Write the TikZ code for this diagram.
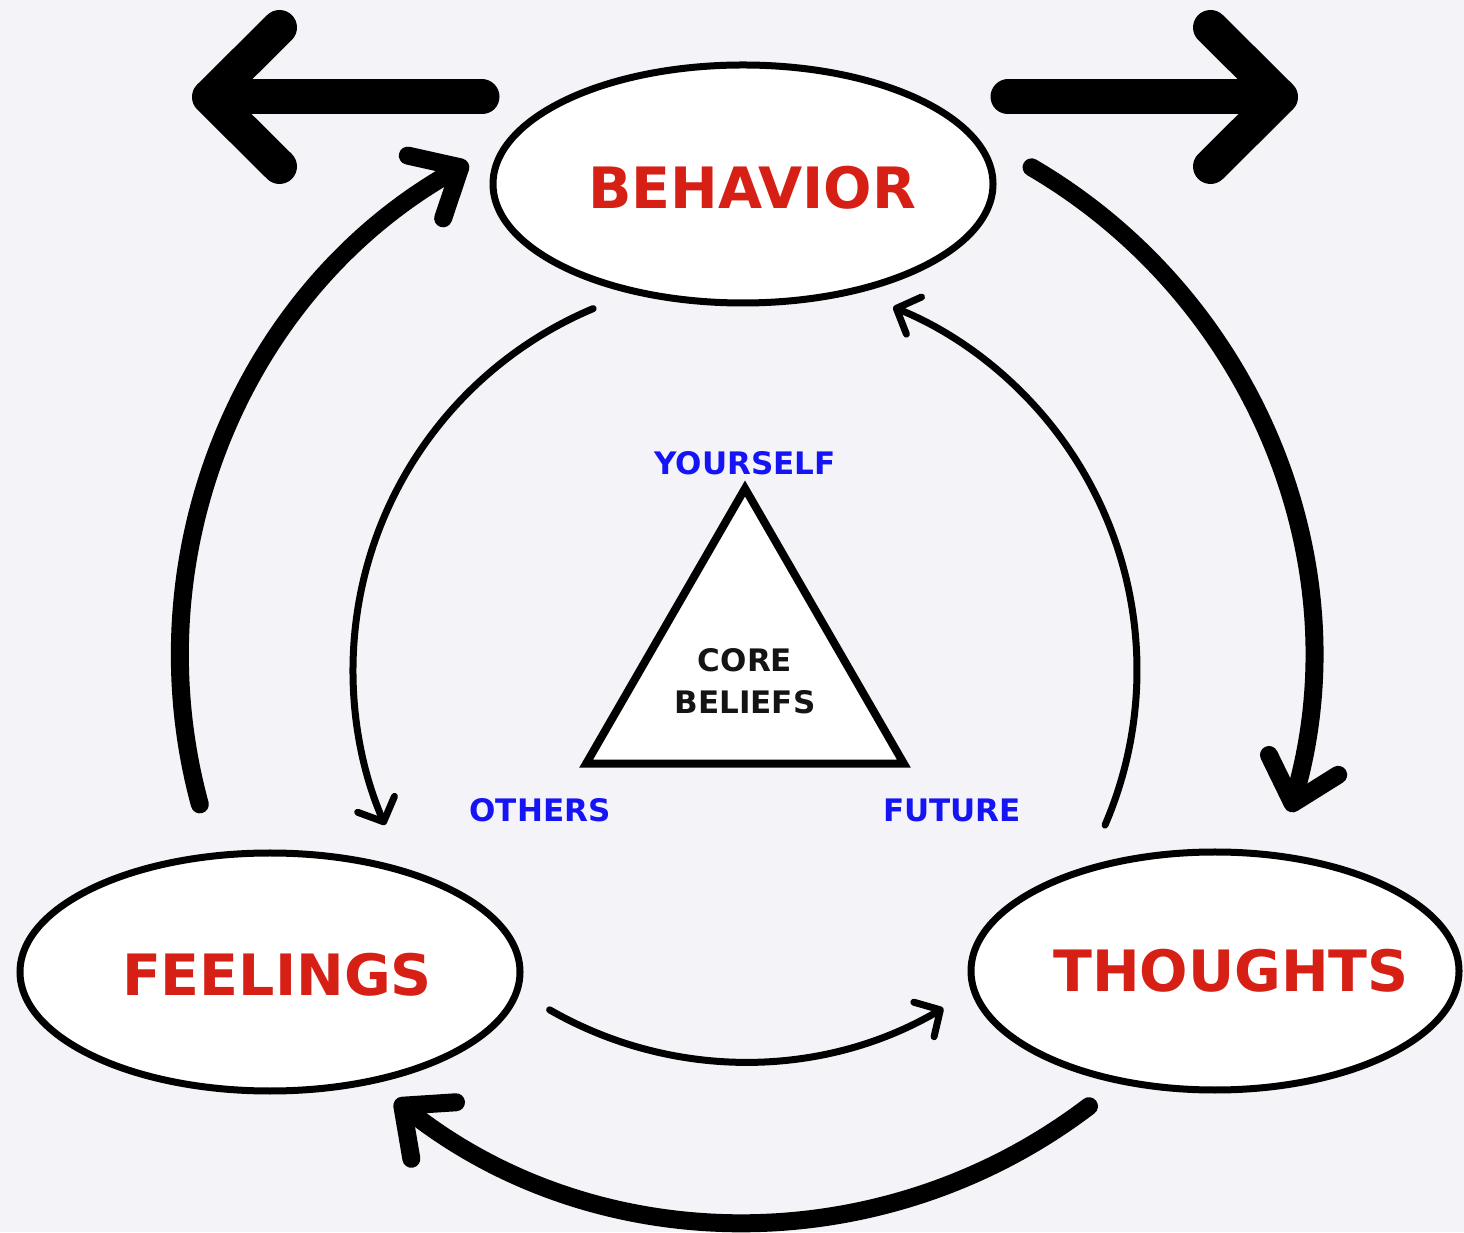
\documentclass[tikz,border=0pt]{standalone}
\usepackage{fontspec}
\setmainfont{DejaVu Sans}
\usetikzlibrary{arrows.meta,shapes.geometric,calc}
\definecolor{bg}{RGB}{244,244,248}
\definecolor{lblred}{RGB}{214,32,22}
\definecolor{lblblue}{RGB}{20,20,245}
\definecolor{inkgray}{RGB}{20,20,20}
\begin{document}
\begin{tikzpicture}[x=1pt,y=1pt,
  bubble/.style={ellipse,draw=black,line width=7pt,fill=white,inner sep=0pt,minimum width=500pt,minimum height=238pt},
  bigword/.style={font=\bfseries\fontsize{57}{60}\selectfont,text=lblred,inner sep=0pt},
  tag/.style={font=\bfseries\fontsize{31}{36}\selectfont,text=lblblue,inner sep=0pt},
  heavy/.style={line width=18pt,line cap=round,-{Straight Barb[length=40pt,width=72pt,round]}},
  light/.style={line width=7pt,line cap=round,-{Straight Barb[length=19pt,width=40pt,round]}},
  huge/.style={line width=35pt,line cap=round,-{Straight Barb[length=70pt,width=139pt,round]}},
]
\fill[bg] (0,0) rectangle (1464,1232);
\useasboundingbox (0,0) rectangle (1464,1232);

\coordinate (outerC) at (746,576);
\coordinate (innerC) at (745,562);

% thin inner arcs
\draw[light] ($(innerC)+(112.8:392)$) arc[start angle=112.8,end angle=203.3,radius=392];
\draw[light] ($(innerC)+(-23.3:392)$) arc[start angle=-23.3,end angle=67.8,radius=392];
\draw[light] ($(innerC)+(240.1:392)$) arc[start angle=240.1,end angle=300.4,radius=392];

% thick outer arcs
\draw[heavy] ($(outerC)+(195.2:566)$) arc[start angle=195.2,end angle=119.4,radius=566];
\draw[heavy] ($(outerC)+(59.7:566)$) arc[start angle=59.7,end angle=-16,radius=566];
\draw[heavy] ($(outerC)+(307.3:566)$) arc[start angle=307.3,end angle=231.7,radius=566];

% big top arrows
\coordinate (lA) at (482,1135);
\coordinate (lB) at (192,1135);
\coordinate (rA) at (1008,1135);
\coordinate (rB) at (1298,1135);
\draw[huge] (lA) -- (lB);
\draw[huge] (rA) -- (rB);

% ellipses
\node[bubble] (beh) at (743,1048) {};
\node[bubble] (fee) at (270,260) {};
\node[bubble,minimum width=488pt] (tho) at (1215,261) {};
\node[bigword] (behT) at ($(beh.center)+(9,-4)$) {BEHAVIOR};
\node[bigword] (feeT) at ($(fee.center)+(7,-3)$) {FEELINGS};
\node[bigword] (thoT) at ($(tho.center)+(16,0)$) {THOUGHTS};

% triangle
\node[regular polygon,regular polygon sides=3,draw=black,line width=8pt,fill=white,minimum size=367pt,inner sep=0pt] (tri) at (745,560) {};
\node[font=\bfseries\fontsize{31}{42}\selectfont,text=inkgray,align=center,inner sep=0pt] (core) at (745,551) {CORE\\BELIEFS};
\node[tag] (you) at (745,769) {YOURSELF};
\node[tag] (oth) at (540,422) {OTHERS};
\node[tag] (fut) at (952,422) {FUTURE};
\end{tikzpicture}
\end{document}
